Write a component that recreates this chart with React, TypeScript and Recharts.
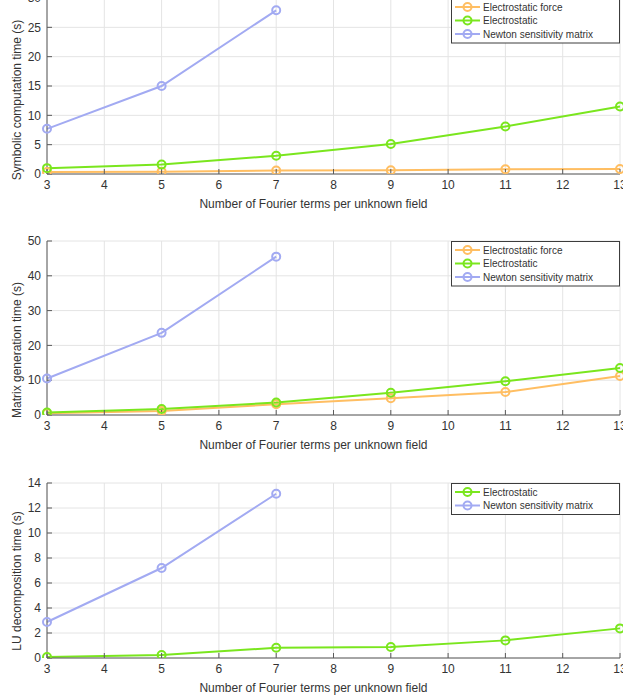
import { LineChart, Line, XAxis, YAxis, CartesianGrid, Label } from 'recharts';

// number of Fourier terms per unknown field
const terms = [3, 5, 7, 9, 11, 13];
const xTicks = [3, 4, 5, 6, 7, 8, 9, 10, 11, 12, 13];

// symbolic computation time (s)
const symForce = [0.35, 0.4, 0.6, 0.65, 0.8, 0.85];
const symElec = [1.0, 1.6, 3.1, 5.1, 8.1, 11.5];
const symNewton = [7.7, 15.0, 27.9];

// matrix generation time (s)
const genForce = [0.5, 1.15, 3.1, 4.8, 6.6, 11.2];
const genElec = [0.7, 1.7, 3.6, 6.4, 9.7, 13.5];
const genNewton = [10.5, 23.6, 45.5];

// LU decomposition time (s)
const luElec = [0.08, 0.24, 0.82, 0.88, 1.41, 2.37];
const luNewton = [2.88, 7.2, 13.14];

const FONT = '"Liberation Sans", Arial, sans-serif';
const ORANGE = '#FFBE62';
const GREEN = '#7AE61E';
const BLUE = '#A2AAF2';
const AXIS = '#5a5a5a';
const TEXT = '#333333';

type Series = { key: string, name: string, color: string, values: number[] };

type PanelProps = {
    top: number,
    plotHeight: number,
    yMax: number,
    yTicks: number[],
    yLabel: string,
    yLabelCenter: number,
    series: Series[]
}

function Panel({ top, plotHeight, yMax, yTicks, yLabel, yLabelCenter, series }: PanelProps) {
    const data = terms.map((t, i) => {
        const row: Record<string, number | undefined> = { x: t };
        series.forEach(s => { row[s.key] = s.values[i]; });
        return row;
    });
    const height = 10 + plotHeight + 40;

    return (
        <div style={{ position: 'absolute', left: 0, top, width: 623, height }}>
            <LineChart width={623} height={height} data={data}
                margin={{ top: 10, right: 3, left: 0, bottom: 0 }}
                style={{ fontFamily: FONT }}>
                <CartesianGrid stroke="#e4e4e4" verticalPoints={undefined} />
                <XAxis dataKey="x" type="number" domain={[3, 13]} ticks={xTicks} interval={0}
                    height={40} tickSize={-5} tickMargin={11} stroke={AXIS}
                    tick={{ fill: TEXT, fontSize: 12 }}>
                    <Label value="Number of Fourier terms per unknown field" position="insideBottom"
                        offset={6} dx={-20} fill={TEXT} fontSize={12} />
                </XAxis>
                <YAxis type="number" domain={[0, yMax]} ticks={yTicks} interval={0} width={47}
                    tickSize={-5} tickMargin={11} stroke={AXIS} allowDataOverflow
                    tick={{ fill: TEXT, fontSize: 12 }}>
                    <Label content={() => (
                        <text x={17} y={yLabelCenter} transform={`rotate(-90, 17, ${yLabelCenter})`}
                            textAnchor="middle" dominantBaseline="central" fill={TEXT} fontSize={12}
                            fontFamily={FONT}>{yLabel}</text>
                    )} />
                </YAxis>
                {series.map(s => (
                    <Line key={s.key} dataKey={s.key} name={s.name} stroke={s.color} strokeWidth={2}
                        isAnimationActive={false} connectNulls={false}
                        dot={{ r: 4, strokeWidth: 2, fill: 'none', stroke: s.color }}
                        activeDot={false} />
                ))}
            </LineChart>
            <LegendBox series={series} />
        </div>
    )
}

function LegendBox({ series }: { series: Series[] }) {
    const rowH = 13.5;
    const h = series.length * rowH + 4;
    return (
        <svg style={{ position: 'absolute', left: 451, top: 10 }} width={170} height={h + 1}>
            <rect x={0.5} y={0.5} width={168} height={h} fill="#fff" stroke="#3c3c3c" strokeWidth={1} />
            {series.map((s, i) => {
                const cy = 9 + i * rowH;
                return (
                    <g key={s.key}>
                        <line x1={4} x2={29} y1={cy} y2={cy} stroke={s.color} strokeWidth={2} />
                        <circle cx={16.5} cy={cy} r={4} fill="none" stroke={s.color} strokeWidth={2} />
                        <text x={32} y={cy} dominantBaseline="central" fontSize={10} fill={TEXT}
                            fontFamily={FONT}>{s.name}</text>
                    </g>
                )
            })}
        </svg>
    )
}

export default function App() {
    return (
        <div style={{ position: 'absolute', left: 0, top: 0, width: 623, height: 695, overflow: 'hidden', background: '#fff' }}>
            <Panel top={-12} plotHeight={176} yMax={30} yTicks={[0, 5, 10, 15, 20, 25, 30]}
                yLabel="Symbolic computation time (s)" yLabelCenter={112}
                series={[
                    { key: 'force', name: 'Electrostatic force', color: ORANGE, values: symForce },
                    { key: 'elec', name: 'Electrostatic', color: GREEN, values: symElec },
                    { key: 'newton', name: 'Newton sensitivity matrix', color: BLUE, values: symNewton },
                ]} />
            <Panel top={231} plotHeight={174} yMax={50} yTicks={[0, 10, 20, 30, 40, 50]}
                yLabel="Matrix generation time (s)" yLabelCenter={119}
                series={[
                    { key: 'force', name: 'Electrostatic force', color: ORANGE, values: genForce },
                    { key: 'elec', name: 'Electrostatic', color: GREEN, values: genElec },
                    { key: 'newton', name: 'Newton sensitivity matrix', color: BLUE, values: genNewton },
                ]} />
            <Panel top={473} plotHeight={175} yMax={14} yTicks={[0, 2, 4, 6, 8, 10, 12, 14]}
                yLabel="LU decomposition time (s)" yLabelCenter={108}
                series={[
                    { key: 'elec', name: 'Electrostatic', color: GREEN, values: luElec },
                    { key: 'newton', name: 'Newton sensitivity matrix', color: BLUE, values: luNewton },
                ]} />
        </div>
    )
}
